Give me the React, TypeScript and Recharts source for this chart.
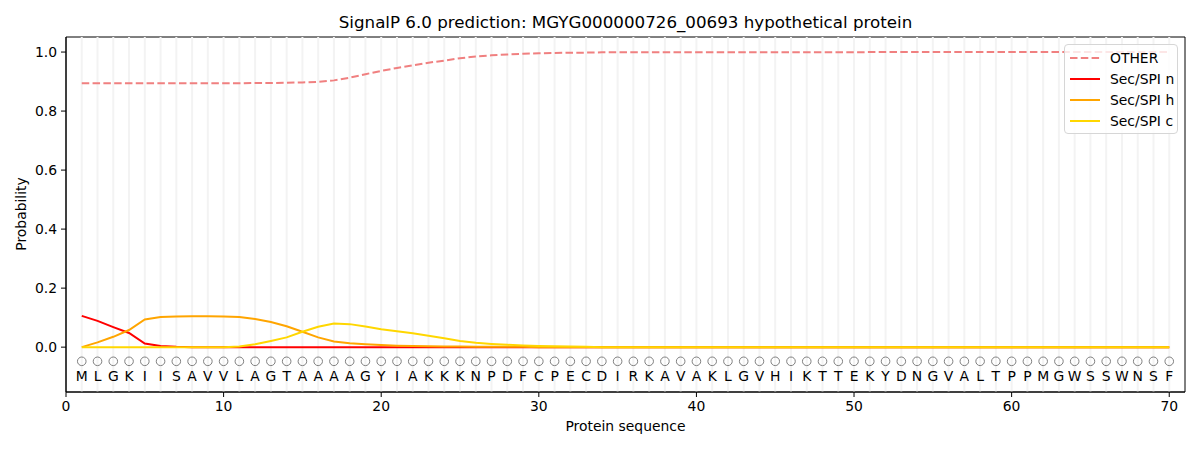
import { ComposedChart, Line, XAxis, YAxis, ReferenceLine, ReferenceArea } from 'recharts';

const TITLE = 'SignalP 6.0 prediction: MGYG000000726_00693 hypothetical protein';

const RESIDUES = 'MLGKIISAVVLAGTAAAAGYIAKKKNPDFCPECDIRKAVAKLGVHIKTTEKYDNGVALTPPMGWSSWNSF'.split('');

const OTHER = [
  0.894, 0.894, 0.894, 0.894, 0.894, 0.894, 0.894, 0.894, 0.894, 0.894,
  0.894, 0.895, 0.895, 0.896, 0.897, 0.899, 0.904, 0.913, 0.925, 0.936,
  0.946, 0.955, 0.964, 0.971, 0.979, 0.985, 0.989, 0.992, 0.994, 0.996,
  0.997, 0.998, 0.998, 0.999, 0.999, 0.999, 0.999, 0.999, 0.999, 0.999,
  0.999, 0.999, 0.999, 0.999, 0.999, 0.999, 0.999, 0.999, 0.999, 0.999,
  1.0, 1.0, 1.0, 1.0, 1.0, 1.0, 1.0, 1.0, 1.0, 1.0,
  1.0, 1.0, 1.0, 1.0, 1.0, 1.0, 1.0, 1.0, 1.0, 1.0,
];

const SEC_N = [
  0.106, 0.089, 0.068, 0.048, 0.012, 0.004, 0.001, 0, 0, 0,
  0, 0, 0, 0, 0, 0, 0, 0, 0, 0,
  0, 0, 0, 0, 0, 0, 0, 0, 0, 0,
  0, 0, 0, 0, 0, 0, 0, 0, 0, 0,
  0, 0, 0, 0, 0, 0, 0, 0, 0, 0,
  0, 0, 0, 0, 0, 0, 0, 0, 0, 0,
  0, 0, 0, 0, 0, 0, 0, 0, 0, 0,
];

const SEC_H = [
  0, 0.016, 0.035, 0.058, 0.094, 0.102, 0.104, 0.105, 0.105, 0.104,
  0.102, 0.095, 0.085, 0.071, 0.052, 0.033, 0.019, 0.013, 0.01, 0.007,
  0.005, 0.004, 0.003, 0.002, 0.002, 0.001, 0.001, 0.001, 0.001, 0,
  0, 0, 0, 0, 0, 0, 0, 0, 0, 0,
  0, 0, 0, 0, 0, 0, 0, 0, 0, 0,
  0, 0, 0, 0, 0, 0, 0, 0, 0, 0,
  0, 0, 0, 0, 0, 0, 0, 0, 0, 0,
];

const SEC_C = [
  0, 0, 0, 0, 0, 0, 0, 0, 0, 0,
  0.002, 0.01, 0.021, 0.033, 0.052, 0.069, 0.08, 0.078, 0.07, 0.061,
  0.054, 0.047, 0.039, 0.03, 0.021, 0.015, 0.011, 0.008, 0.006, 0.004,
  0.003, 0.002, 0.001, 0, 0, 0, 0, 0, 0, 0,
  0, 0, 0, 0, 0, 0, 0, 0, 0, 0,
  0, 0, 0, 0, 0, 0, 0, 0, 0, 0,
  0, 0, 0, 0, 0, 0, 0, 0, 0, 0,
];

const X_TICKS = [0, 10, 20, 30, 40, 50, 60, 70];
const Y_TICKS = [0, 0.2, 0.4, 0.6, 0.8, 1.0];

const SERIES = [
  { key: 'other', name: 'OTHER', color: '#f08080', dash: '7.5 3.3' },
  { key: 'n', name: 'Sec/SPI n', color: '#ff0000' },
  { key: 'h', name: 'Sec/SPI h', color: '#ffa500' },
  { key: 'c', name: 'Sec/SPI c', color: '#ffd700' },
];

// where the residue markers sit, in probability units (below zero)
const CIRCLE_Y = -0.048;
const LETTER_Y = -0.099;
const X_DOMAIN: [number, number] = [0, 71];
const Y_DOMAIN: [number, number] = [-0.152, 1.051];

const FONT = '"DejaVu Sans", sans-serif';

const rows = RESIDUES.map((aa, i) => ({
  pos: i + 1,
  aa,
  other: OTHER[i],
  n: SEC_N[i],
  h: SEC_H[i],
  c: SEC_C[i],
}));

const ResidueCircle = (p: any) => (
  <circle key={`circ-${p.index}`} cx={p.cx} cy={p.cy} r={4.3} fill="none" stroke="#808080" strokeWidth={1} />
);

const ResidueLetter = (p: any) => (
  <text
    key={`aa-${p.index}`}
    x={p.cx}
    y={p.cy}
    textAnchor="middle"
    dominantBaseline="central"
    fontSize={13.9}
    fontFamily={FONT}
    fill="#000"
  >
    {p.payload.aa}
  </text>
);

const tickStyle = { fontSize: 13.9, fontFamily: FONT, fill: '#000' };

export default function App() {
  return (
    <div style={{ position: 'relative', width: 1200, height: 450, background: '#fff', fontFamily: FONT }}>
      <style>{'body{margin:0}'}</style>
      <ComposedChart width={1200} height={450} data={rows} margin={{ top: 37, right: 15, bottom: 28, left: 0 }}>
        {rows.map((r) => (
          <ReferenceLine key={`g${r.pos}`} x={r.pos} stroke="#f3f3f3" strokeWidth={2} />
        ))}
        <XAxis
          dataKey="pos"
          type="number"
          domain={X_DOMAIN}
          ticks={X_TICKS}
          allowDataOverflow
          height={30}
          tickSize={5}
          tickMargin={4}
          tick={tickStyle}
          stroke="#000"
        />
        <YAxis
          type="number"
          domain={Y_DOMAIN}
          ticks={Y_TICKS}
          allowDataOverflow
          width={66}
          tickSize={5}
          tickMargin={4}
          tick={tickStyle}
          tickFormatter={(v: number) => v.toFixed(1)}
          stroke="#000"
        />
        {SERIES.map((s) => (
          <Line
            key={s.key}
            dataKey={s.key}
            name={s.name}
            type="linear"
            stroke={s.color}
            strokeWidth={2}
            strokeDasharray={s.dash}
            dot={false}
            activeDot={false}
            isAnimationActive={false}
          />
        ))}
        <Line
          dataKey={() => CIRCLE_Y}
          stroke="none"
          dot={ResidueCircle}
          activeDot={false}
          legendType="none"
          isAnimationActive={false}
        />
        <Line
          dataKey={() => LETTER_Y}
          stroke="none"
          dot={ResidueLetter}
          activeDot={false}
          legendType="none"
          isAnimationActive={false}
        />
        <ReferenceArea
          x1={X_DOMAIN[0]}
          x2={X_DOMAIN[1]}
          y1={Y_DOMAIN[0]}
          y2={Y_DOMAIN[1]}
          fill="none"
          stroke="#000"
          strokeWidth={1}
        />
      </ComposedChart>

      <div
        style={{
          position: 'absolute',
          left: 66,
          width: 1119,
          top: 14,
          textAlign: 'center',
          fontSize: 16.7,
          lineHeight: 1,
          color: '#000',
        }}
      >
        {TITLE}
      </div>
      <div
        style={{
          position: 'absolute',
          left: 66,
          width: 1119,
          top: 420,
          textAlign: 'center',
          fontSize: 13.9,
          lineHeight: 1,
          color: '#000',
        }}
      >
        Protein sequence
      </div>
      <div
        style={{
          position: 'absolute',
          left: 22,
          top: 214,
          transform: 'translate(-50%, -50%) rotate(-90deg)',
          fontSize: 13.9,
          lineHeight: 1,
          whiteSpace: 'nowrap',
          color: '#000',
        }}
      >
        Probability
      </div>

      <div
        style={{
          position: 'absolute',
          left: 1064,
          top: 44,
          width: 112,
          height: 86,
          border: '1px solid #d6d6d6',
          borderRadius: 4,
          background: 'rgba(255,255,255,0.8)',
          paddingTop: 2,
          boxSizing: 'content-box',
        }}
      >
        {SERIES.map((s) => (
          <div key={s.key} style={{ display: 'flex', alignItems: 'center', height: 21, fontSize: 13.9 }}>
            <svg width={30} height={4} style={{ marginLeft: 5, marginRight: 10 }}>
              <line x1={0} y1={2} x2={30} y2={2} stroke={s.color} strokeWidth={2} strokeDasharray={s.dash} />
            </svg>
            <span>{s.name}</span>
          </div>
        ))}
      </div>
    </div>
  );
}
